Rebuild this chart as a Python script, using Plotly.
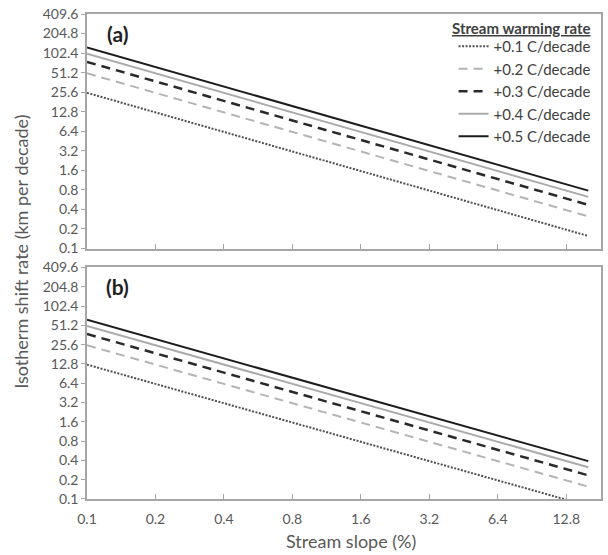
import plotly.graph_objects as go
import math

# ---- data ----
slope_pct = [0.1, 16.0]                      # stream slope (%) at line ends
rate_labels = ["+0.1 C/decade", "+0.2 C/decade", "+0.3 C/decade",
               "+0.4 C/decade", "+0.5 C/decade"]
# panel (a): isotherm shift rate (km per decade) at line ends
a_01 = [25.0, 0.156]
a_02 = [50.0, 0.3125]
a_03 = [75.0, 0.47]
a_04 = [100.0, 0.625]
a_05 = [125.0, 0.78]
# panel (b)
b_01 = [12.5, 0.078]
b_02 = [25.0, 0.156]
b_03 = [37.5, 0.234]
b_04 = [50.0, 0.3125]
b_05 = [62.5, 0.39]

x_ticks = [0.1, 0.2, 0.4, 0.8, 1.6, 3.2, 6.4, 12.8]
x_ticktext = ["0.1", "0.2", "0.4", "0.8", "1.6", "3.2", "6.4", "12.8"]
y_ticks = [0.1, 0.2, 0.4, 0.8, 1.6, 3.2, 6.4, 12.8, 25.6, 51.2, 102.4, 204.8, 409.6]
y_ticktext = ["0.1", "0.2", "0.4", "0.8", "1.6", "3.2", "6.4", "12.8", "25.6",
              "51.2", "102.4", "204.8", "409.6"]

styles = [
    dict(color="#505050", width=2, dash="2px,1.5px"),
    dict(color="#b4b4b4", width=2, dash="9px,6px"),
    dict(color="#2a2a2a", width=2.5, dash="9px,6px"),
    dict(color="#ababab", width=2, dash="solid"),
    dict(color="#1c1c1c", width=2, dash="solid"),
]

FONT = "Lato"
GRAY = "#595959"
FRAME = "#a6a6a6"

fig = go.Figure()
panel_a = [a_01, a_02, a_03, a_04, a_05]
panel_b = [b_01, b_02, b_03, b_04, b_05]
for lab, vals, st in zip(rate_labels, panel_a, styles):
    fig.add_trace(go.Scatter(x=slope_pct, y=vals, mode="lines", name=lab,
                             line=st, xaxis="x", yaxis="y", showlegend=True))
for lab, vals, st in zip(rate_labels, panel_b, styles):
    fig.add_trace(go.Scatter(x=slope_pct, y=vals, mode="lines", name=lab,
                             line=st, xaxis="x2", yaxis="y2", showlegend=False))

L, R, T, B = 87, 5, 13, 56
W, H = 608, 555
pw, ph = W - L - R, H - T - B
def px(xp):
    return (xp - L) / pw
def py(yp):
    return (H - B - yp) / ph

xr = [math.log10(0.1), math.log10(18.2)]
yr = [math.log10(0.1), math.log10(409.6)]

common_x = dict(type="log", range=xr, tickvals=x_ticks, ticktext=x_ticktext,
                showgrid=False, zeroline=False, showline=True, linecolor=FRAME,
                linewidth=1.5, mirror=True, ticks="inside", ticklen=5,
                tickcolor=FRAME, tickfont=dict(family=FONT, size=14, color=GRAY))
common_y = dict(type="log", range=yr, tickvals=y_ticks, ticktext=y_ticktext,
                showgrid=False, zeroline=False, showline=True, linecolor=FRAME,
                linewidth=1.5, mirror=True, ticks="outside", ticklen=4,
                tickcolor=FRAME, tickfont=dict(family=FONT, size=14, color=GRAY))

fig.update_layout(
    width=W, height=H,
    margin=dict(l=L, r=R, t=T, b=B),
    paper_bgcolor="white", plot_bgcolor="white",
    font=dict(family=FONT, color=GRAY),
    xaxis=dict(common_x, anchor="y", showticklabels=False),
    yaxis=dict(common_y, anchor="x", domain=[py(248), 1]),
    xaxis2=dict(common_x, anchor="y2", matches="x", ticklabelstandoff=6),
    yaxis2=dict(common_y, anchor="x2", domain=[0, py(267)]),
    legend=dict(x=px(455), y=py(29), xanchor="left", yanchor="top",
                bgcolor="rgba(0,0,0,0)", borderwidth=0,
                font=dict(family=FONT, size=15, color="#404040"),
                itemwidth=30),
    annotations=[
        dict(text="<b><u>Stream warming rate</u></b>", x=px(594), y=py(27),
             xref="paper", yref="paper", xanchor="right", yanchor="middle",
             showarrow=False, font=dict(family=FONT, size=15, color="#404040")),
        dict(text="<b>(a)</b>", x=px(118), y=py(33), xref="paper", yref="paper",
             xanchor="center", yanchor="middle", showarrow=False,
             font=dict(family=FONT, size=21, color="#222222")),
        dict(text="<b>(b)</b>", x=px(118), y=py(286), xref="paper", yref="paper",
             xanchor="center", yanchor="middle", showarrow=False,
             font=dict(family=FONT, size=21, color="#222222")),
        dict(text="Stream slope (%)", x=px(352), y=py(541), xref="paper", yref="paper",
             xanchor="center", yanchor="middle", showarrow=False,
             font=dict(family=FONT, size=18, color=GRAY)),
        dict(text="Isotherm shift rate (km per decade)", x=px(20), y=py(251),
             xref="paper", yref="paper", xanchor="center", yanchor="middle",
             textangle=-90, showarrow=False,
             font=dict(family=FONT, size=18, color=GRAY)),
    ],
)

fig.write_html("out.html")
